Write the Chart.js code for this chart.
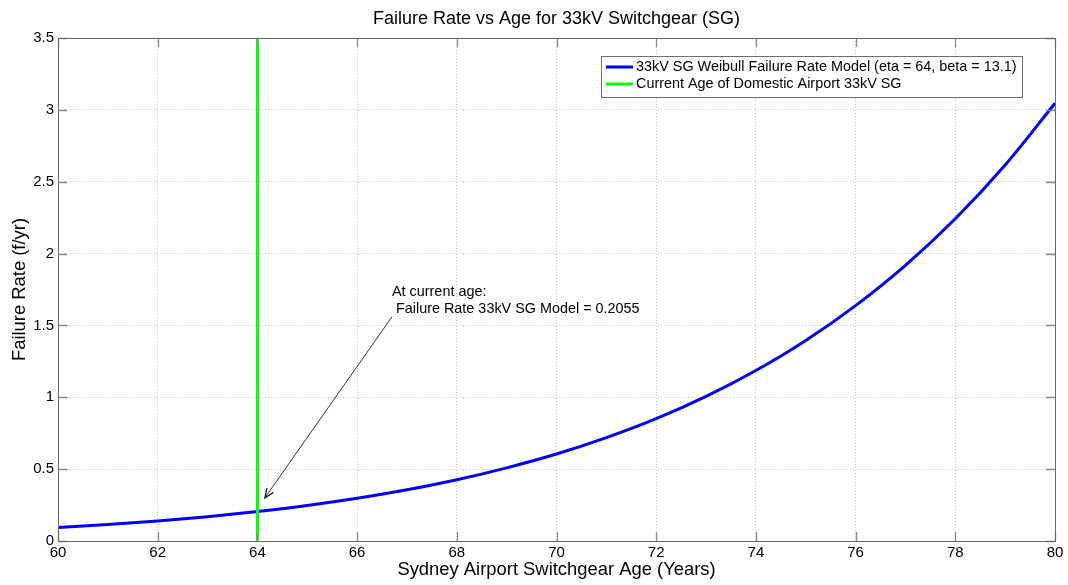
<!DOCTYPE html>
<html>
<head>
<meta charset="utf-8">
<script src="https://cdn.jsdelivr.net/npm/chart.js@4/dist/chart.umd.min.js"></script>
<style>
  html, body { margin: 0; padding: 0; background: #ffffff; }
  #wrap { width: 1068px; height: 585px; }
</style>
</head>
<body>
<div id="wrap"><canvas id="c" width="1068" height="585"></canvas></div>
<script>
// Switchgear age in years and modelled failure rate (failures per year)
const ages = [60, 61, 62, 63, 64, 65, 66, 67, 68, 69, 70, 71, 72, 73, 74, 75, 76, 77, 78, 79, 80];
const failureRate = [0.094, 0.114, 0.139, 0.169, 0.205, 0.247, 0.297, 0.356, 0.426, 0.509, 0.605,
                     0.719, 0.851, 1.006, 1.186, 1.395, 1.638, 1.918, 2.242, 2.616, 3.046];

// Current age of the Domestic Airport 33kV switchgear and its rate
const currentAge = [64];
const currentRate = [0.2055];
const rateRange = [0, 3.5];

const xTicks = [60, 62, 64, 66, 68, 70, 72, 74, 76, 78, 80];
const yTicks = [0, 0.5, 1, 1.5, 2, 2.5, 3, 3.5];
const chartTitle = 'Failure Rate vs Age for 33kV Switchgear (SG)';
const seriesLabels = [
  '33kV SG Weibull Failure Rate Model (eta = 64, beta = 13.1)',
  'Current Age of Domestic Airport 33kV SG'
];
const annotationLines = [
  'At current age:',
  ' Failure Rate 33kV SG Model = ' + currentRate[0].toFixed(4)
];

const FONT = '"Liberation Sans", Arial, Helvetica, sans-serif';

// Title centred over the plotting area
const titlePlugin = {
  id: 'axesTitle',
  afterDraw(chart) {
    const { ctx, chartArea: a } = chart;
    ctx.save();
    ctx.fillStyle = '#000000';
    ctx.font = '18px ' + FONT;
    ctx.textAlign = 'center';
    ctx.textBaseline = 'middle';
    ctx.fillText(chartTitle, (a.left + a.right) / 2, 19);
    ctx.restore();
  }
};

// Box around the axes with inward tick marks on all four sides
const framePlugin = {
  id: 'frame',
  afterDatasetsDraw(chart) {
    const { ctx, chartArea: a, scales } = chart;
    ctx.save();
    ctx.strokeStyle = '#8a8a8a';
    ctx.lineWidth = 1.3;
    const len = 9;
    ctx.beginPath();
    xTicks.forEach(v => {
      const x = Math.round(scales.x.getPixelForValue(v)) + 0.5;
      ctx.moveTo(x, a.bottom); ctx.lineTo(x, a.bottom - len);
      ctx.moveTo(x, a.top); ctx.lineTo(x, a.top + len);
    });
    yTicks.forEach(v => {
      const y = Math.round(scales.y.getPixelForValue(v)) + 0.5;
      ctx.moveTo(a.left, y); ctx.lineTo(a.left + len, y);
      ctx.moveTo(a.right, y); ctx.lineTo(a.right - len, y);
    });
    ctx.stroke();
    ctx.strokeStyle = '#666666';
    ctx.lineWidth = 1;
    ctx.strokeRect(Math.round(a.left) + 0.5, Math.round(a.top) + 0.5,
                   Math.round(a.right - a.left), Math.round(a.bottom - a.top));
    ctx.restore();
  }
};

// Text note with an arrow pointing at the current-age point on the curve
const notePlugin = {
  id: 'note',
  afterDatasetsDraw(chart) {
    const { ctx, scales } = chart;
    const sx = scales.x, sy = scales.y;
    const x0 = sx.getPixelForValue(66.70), y0 = sy.getPixelForValue(1.56);
    const x1 = sx.getPixelForValue(64.15), y1 = sy.getPixelForValue(0.30);
    ctx.save();
    ctx.strokeStyle = '#000000';
    ctx.lineWidth = 0.8;
    ctx.beginPath();
    ctx.moveTo(x0, y0); ctx.lineTo(x1, y1);
    ctx.stroke();
    const ang = Math.atan2(y1 - y0, x1 - x0);
    const h = 10, spread = 0.4;
    ctx.lineWidth = 1.2;
    ctx.beginPath();
    ctx.moveTo(x1 - h * Math.cos(ang - spread), y1 - h * Math.sin(ang - spread));
    ctx.lineTo(x1, y1);
    ctx.lineTo(x1 - h * Math.cos(ang + spread), y1 - h * Math.sin(ang + spread));
    ctx.stroke();

    ctx.fillStyle = '#000000';
    ctx.font = '14.4px ' + FONT;
    ctx.textAlign = 'left';
    ctx.textBaseline = 'middle';
    const tx = sx.getPixelForValue(66.70);
    ctx.fillText(annotationLines[0], tx, sy.getPixelForValue(1.733));
    ctx.fillText(annotationLines[1], tx, sy.getPixelForValue(1.614));
    ctx.restore();
  }
};

// Boxed legend in the upper-right corner of the axes
const legendPlugin = {
  id: 'boxLegend',
  afterDatasetsDraw(chart) {
    const { ctx } = chart;
    const bx = 601, by = 56, bw = 421, bh = 41;
    ctx.save();
    ctx.fillStyle = '#ffffff';
    ctx.fillRect(bx, by, bw, bh);
    ctx.strokeStyle = '#6e6e6e';
    ctx.lineWidth = 1;
    ctx.strokeRect(bx + 0.5, by + 0.5, bw, bh);
    ctx.font = '14.4px ' + FONT;
    ctx.textAlign = 'left';
    ctx.textBaseline = 'middle';
    seriesLabels.forEach((label, i) => {
      const ds = chart.data.datasets.find(d => d.label === label);
      const y = by + 11 + i * 17;
      ctx.strokeStyle = ds.borderColor;
      ctx.lineWidth = 3;
      ctx.beginPath();
      ctx.moveTo(bx + 5, y); ctx.lineTo(bx + 32, y);
      ctx.stroke();
      ctx.fillStyle = '#000000';
      ctx.fillText(label, bx + 35, y + 0.5);
    });
    ctx.restore();
  }
};

new Chart(document.getElementById('c'), {
  type: 'line',
  data: {
    datasets: [
      {
        label: seriesLabels[0],
        data: ages.map((a, i) => ({ x: a, y: failureRate[i] })),
        borderColor: '#0000ff',
        borderWidth: 3,
        pointRadius: 0,
        cubicInterpolationMode: 'monotone',
        order: 1
      },
      {
        label: seriesLabels[1],
        data: rateRange.map(r => ({ x: currentAge[0], y: r })),
        borderColor: '#00ff00',
        borderWidth: 3,
        pointRadius: 0,
        order: 0
      }
    ]
  },
  options: {
    responsive: false,
    animation: false,
    devicePixelRatio: 1,
    layout: { padding: { top: 38, right: 13, bottom: 0, left: 0 } },
    plugins: {
      legend: { display: false },
      tooltip: { enabled: false },
      title: { display: false }
    },
    scales: {
      x: {
        type: 'linear',
        min: 60,
        max: 80,
        afterBuildTicks: s => { s.ticks = xTicks.map(v => ({ value: v })); },
        afterFit: s => { s.height = 44; },
        ticks: {
          color: '#000000',
          font: { family: FONT, size: 15 },
          padding: 3,
          maxRotation: 0,
          autoSkip: false,
          callback: v => String(v)
        },
        grid: { color: '#c4c4c4', lineWidth: 1, drawTicks: false },
        border: { display: false, dash: [1, 2] },
        title: {
          display: true,
          text: 'Sydney Airport Switchgear Age (Years)',
          color: '#000000',
          font: { family: FONT, size: 18.4, lineHeight: '20px' },
          padding: { top: 0, bottom: 5 }
        }
      },
      y: {
        type: 'linear',
        min: 0,
        max: 3.5,
        afterBuildTicks: s => { s.ticks = yTicks.map(v => ({ value: v })); },
        afterFit: s => { s.width = 58; },
        ticks: {
          color: '#000000',
          font: { family: FONT, size: 15 },
          padding: 4,
          autoSkip: false,
          callback: v => String(v)
        },
        grid: { color: '#c4c4c4', lineWidth: 1, drawTicks: false },
        border: { display: false, dash: [1, 2] },
        title: {
          display: true,
          text: 'Failure Rate (f/yr)',
          color: '#000000',
          font: { family: FONT, size: 18.4, lineHeight: '20px' },
          padding: { top: 10, bottom: 0 }
        }
      }
    }
  },
  plugins: [titlePlugin, framePlugin, notePlugin, legendPlugin]
});
</script>
</body>
</html>
